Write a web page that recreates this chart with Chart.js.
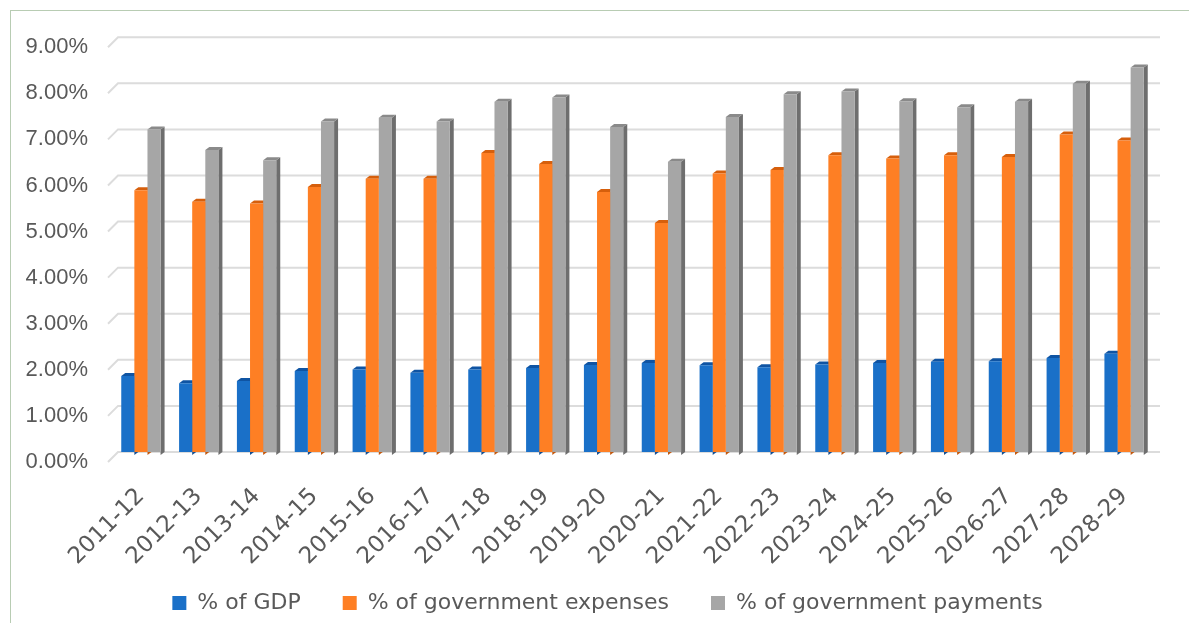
<!DOCTYPE html>
<html lang="en">
  <head>
    <meta charset="UTF-8" />
    <title>Government spending share</title>
    <script src="https://cdn.jsdelivr.net/npm/chart.js"></script>
    <style>
      html, body { margin: 0; padding: 0; background: #fff; }
      #wrap { position: relative; width: 1189px; height: 623px; overflow: hidden; }
      #frame {
        position: absolute; left: 10px; top: 10px; right: -2px; bottom: -2px;
        border-left: 1.5px solid #b8ccb3; border-top: 1.5px solid #b8ccb3;
      }
      #chart { position: absolute; left: 0; top: 0; }
    </style>
  </head>
  <body>
    <div id="wrap">
      <div id="frame"></div>
      <canvas id="chart" width="1189" height="623"></canvas>
    </div>
    <script>
      const years = [
        "2011-12", "2012-13", "2013-14", "2014-15", "2015-16", "2016-17",
        "2017-18", "2018-19", "2019-20", "2020-21", "2021-22", "2022-23",
        "2023-24", "2024-25", "2025-26", "2026-27", "2027-28", "2028-29",
      ];
      const pctGdp = [
        1.65, 1.49, 1.54, 1.76, 1.79, 1.72, 1.79, 1.82, 1.89,
        1.93, 1.88, 1.84, 1.9, 1.93, 1.96, 1.97, 2.04, 2.13,
      ];
      const pctExpenses = [
        5.68, 5.43, 5.39, 5.75, 5.93, 5.93, 6.49, 6.25, 5.64,
        4.97, 6.04, 6.12, 6.44, 6.37, 6.44, 6.4, 6.89, 6.76,
      ];
      const pctPayments = [
        7.0, 6.55, 6.33, 7.17, 7.25, 7.17, 7.6, 7.69, 7.05,
        6.3, 7.27, 7.76, 7.82, 7.61, 7.48, 7.6, 7.99, 8.34,
      ];
      const yTicks = [0, 1, 2, 3, 4, 5, 6, 7, 8, 9];

      const textColor = "#595959";
      const fontFamily = "'DejaVu Sans', sans-serif";

      // back-wall gridlines with the little slanted floor stub on the left
      // plus the side/top faces of each bar so they look like Excel 3D columns
      const fake3d = {
        id: "fake3d",
        beforeDatasetsDraw(chart) {
          const ctx = chart.ctx;
          const area = chart.chartArea;
          const y = chart.scales.y;
          ctx.save();
          ctx.strokeStyle = "#dcdcdc";
          ctx.lineWidth = 2;
          yTicks.forEach((t) => {
            const py = y.getPixelForValue(t);
            ctx.beginPath();
            ctx.moveTo(area.left - 4, py + 10);
            ctx.lineTo(area.left + 6, py);
            ctx.lineTo(area.right + 7, py);
            ctx.stroke();
          });

          const d = 4, dv = 3;
          chart.getSortedVisibleDatasetMetas().forEach((meta) => {
            const ds = chart.data.datasets[meta.index];
            meta.data.forEach((bar) => {
              const p = bar.getProps(["x", "y", "base", "width"], true);
              const l = p.x - p.width / 2;
              const r = p.x + p.width / 2;
              ctx.fillStyle = ds.sideColor;
              ctx.beginPath();
              ctx.moveTo(r, p.y);
              ctx.lineTo(r + d, p.y - dv);
              ctx.lineTo(r + d, p.base - dv + 3);
              ctx.lineTo(r, p.base + 3);
              ctx.closePath();
              ctx.fill();
              ctx.fillStyle = ds.capColor;
              ctx.beginPath();
              ctx.moveTo(l, p.y);
              ctx.lineTo(l + d, p.y - dv);
              ctx.lineTo(r + d, p.y - dv);
              ctx.lineTo(r, p.y);
              ctx.closePath();
              ctx.fill();
            });
          });
          ctx.restore();
        },
      };

      // keep the legend short and nudge it right, like the original;
      // also let the slanted year labels run past the axis box without clipping
      const legendFix = {
        id: "legendFix",
        beforeLayout(chart) {
          const lg = chart.legend;
          if (lg && !lg._patched) {
            const fit = lg.fit;
            lg.fit = function () {
              fit.call(this);
              this.height = 73;
            };
            lg._patched = true;
          }
        },
        afterLayout(chart) {
          chart.legend.left += 31;
          chart.legend.right += 31;
          chart.scales.x.bottom = chart.height;
        },
      };

      new Chart(document.getElementById("chart"), {
        type: "bar",
        data: {
          labels: years,
          datasets: [
            {
              label: "% of GDP",
              data: pctGdp,
              backgroundColor: "#1a70c8",
              capColor: "#0f54a3",
              sideColor: "#124f94",
            },
            {
              label: "% of government expenses",
              data: pctExpenses,
              backgroundColor: "#fe7f24",
              capColor: "#d65f0c",
              sideColor: "#c4580d",
            },
            {
              label: "% of government payments",
              data: pctPayments,
              backgroundColor: "#a6a6a6",
              capColor: "#8a8a8a",
              sideColor: "#6e6e6e",
            },
          ],
        },
        options: {
          responsive: false,
          animation: false,
          layout: { padding: { top: 37, right: 36, left: 0, bottom: 0 } },
          datasets: {
            bar: { categoryPercentage: 0.68, barPercentage: 1.0 },
          },
          scales: {
            x: {
              grid: { display: false, drawTicks: false },
              border: { display: false },
              ticks: {
                color: textColor,
                font: { family: fontFamily, size: 23 },
                minRotation: 45,
                maxRotation: 45,
                padding: 31,
                autoSkip: false,
              },
              afterFit(scale) {
                scale.height = 98;
              },
            },
            y: {
              min: 0,
              max: 9,
              grid: { display: false, drawTicks: false },
              border: { display: false },
              ticks: {
                stepSize: 1,
                color: textColor,
                font: { family: "'Liberation Sans', Arial, sans-serif", size: 22 },
                padding: 24,
                labelOffset: 10,
                callback: (v) => v.toFixed(2) + "%",
              },
              afterFit(scale) {
                scale.width = 112;
              },
            },
          },
          plugins: {
            tooltip: { enabled: false },
            legend: {
              position: "bottom",
              labels: {
                color: textColor,
                font: { family: fontFamily, size: 22 },
                boxWidth: 14,
                boxHeight: 14,
                padding: 42,
              },
            },
          },
        },
        plugins: [fake3d, legendFix],
      });
    </script>
  </body>
</html>
